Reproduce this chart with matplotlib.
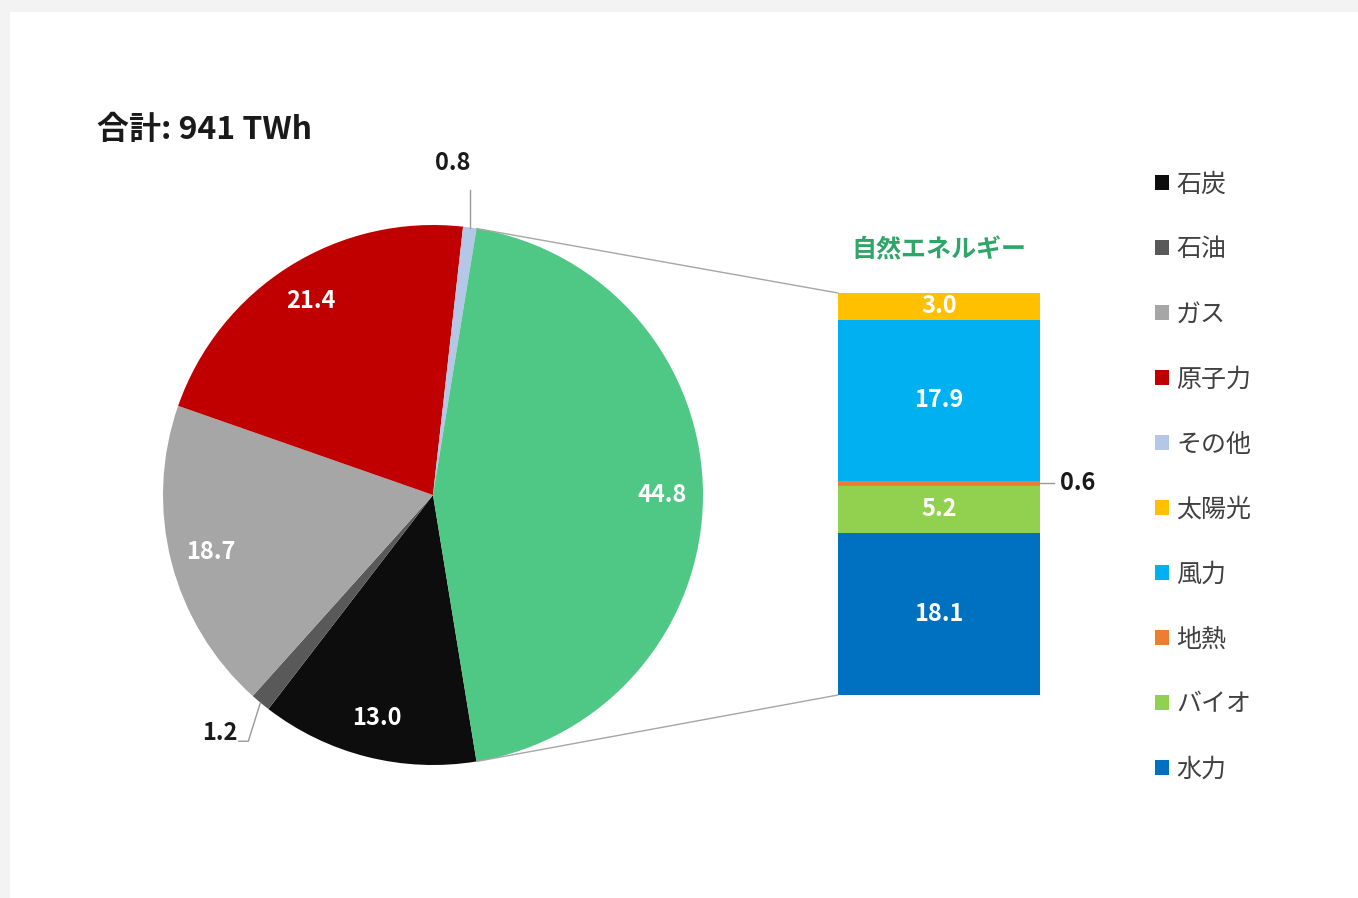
import numpy as np
import matplotlib
matplotlib.use("Agg")
import matplotlib.pyplot as plt
from matplotlib.patches import Patch, Rectangle, ConnectionPatch

plt.rcParams["font.family"] = ["Noto Sans CJK JP", "DejaVu Sans"]

# data
pie_labels = ["石炭", "石油", "ガス", "原子力", "その他", "自然エネルギー"]
pie_values = [13.0, 1.2, 18.7, 21.4, 0.8, 44.8]
pie_colors = ["#0d0d0d", "#595959", "#a6a6a6", "#c00000", "#b4c7e7", "#4fc785"]

bar_labels = ["水力", "バイオ", "地熱", "風力", "太陽光"]
bar_values = [18.1, 5.2, 0.6, 17.9, 3.0]
bar_colors = ["#0070c0", "#92d050", "#ed7d31", "#00b0f0", "#ffc000"]

total_label = "合計: 941 TWh"
renew_title = "自然エネルギー"

W, H = 1358, 898
fig = plt.figure(figsize=(W / 100, H / 100), dpi=100, facecolor="#f3f3f3")
fig.add_artist(Rectangle((10 / W, 0), 1, 1 - 12 / H, transform=fig.transFigure,
                         facecolor="white", edgecolor="none", zorder=0))


def px_axes(x0, y0, x1, y1):
    return fig.add_axes([x0 / W, 1 - y1 / H, (x1 - x0) / W, (y1 - y0) / H])


NUM_FS = 17

# pie
ax = px_axes(163, 225, 703, 765)
renew_share = pie_values[-1] / sum(pie_values)
start = -360 * renew_share / 2
wedges, _ = ax.pie(pie_values, colors=pie_colors, startangle=start, counterclock=False,
                   wedgeprops=dict(linewidth=0, clip_on=False))
ax.set_xlim(-1, 1)
ax.set_ylim(-1, 1)
ax.set_aspect("equal")
ax.axis("off")

for w, v in zip(wedges, pie_values):
    mid = np.deg2rad((w.theta1 + w.theta2) / 2)
    cx, cy = np.cos(mid), np.sin(mid)
    if v >= 5:
        ax.text(0.85 * cx, 0.85 * cy, f"{v:.1f}", color="white", fontsize=NUM_FS,
                fontweight="bold", ha="center", va="center")

# small slice labels with leader lines
w_other = wedges[4]
m = np.deg2rad((w_other.theta1 + w_other.theta2) / 2)
ox, oy = np.cos(m), np.sin(m)
ax.plot([ox, ox], [oy, 1.13], color="#999999", lw=1, clip_on=False)
ax.text(ox - 0.065, 1.23, f"{pie_values[4]:.1f}", fontsize=NUM_FS, fontweight="bold",
        ha="center", va="center", color="#1a1a1a")

w_oil = wedges[1]
m = np.deg2rad((w_oil.theta1 + w_oil.theta2) / 2)
ox, oy = np.cos(m), np.sin(m)
ax.plot([ox, ox - 0.045, ox - 0.08], [oy, -0.912, -0.912], color="#999999", lw=1,
        clip_on=False)
ax.text(ox - 0.085, -0.88, f"{pie_values[1]:.1f}", fontsize=NUM_FS, fontweight="bold",
        ha="right", va="center", color="#1a1a1a")

# stacked bar
bx = px_axes(838, 293, 1040, 695)
bottom = 0
for lab, v, c in zip(bar_labels, bar_values, bar_colors):
    bx.bar(0.5, v, width=1, bottom=bottom, color=c, linewidth=0)
    mid = bottom + v / 2
    if v >= 1:
        bx.text(0.5, mid, f"{v:.1f}", color="white", fontsize=NUM_FS, fontweight="bold",
                ha="center", va="center")
    else:
        bx.plot([1.0, 1.07], [mid, mid], color="#999999", lw=1, clip_on=False)
        bx.text(1.10, mid, f"{v:.1f}", fontsize=NUM_FS, fontweight="bold",
                ha="left", va="center", color="#1a1a1a")
    bottom += v
bx.set_xlim(0, 1)
bx.set_ylim(0, sum(bar_values))
bx.axis("off")
bx.text(0.5, sum(bar_values) + 4.8, renew_title, color="#2fa568", fontsize=18,
        fontweight="bold", ha="center", va="center")

# connector lines
g = wedges[-1]
for ang, yb in [(g.theta2, sum(bar_values)), (g.theta1, 0)]:
    a = np.deg2rad(ang)
    con = ConnectionPatch(xyA=(np.cos(a), np.sin(a)), coordsA=ax.transData,
                          xyB=(0, yb), coordsB=bx.transData,
                          color="#a6a6a6", lw=1)
    fig.add_artist(con)

fig.text(97 / W, 1 - 130 / H, total_label, fontsize=23, fontweight="bold",
         ha="left", va="center", color="#1a1a1a")

# legend
leg_labels = pie_labels[:5] + bar_labels[::-1]
leg_colors = pie_colors[:5] + bar_colors[::-1]
handles = [Patch(facecolor=c, edgecolor="none") for c in leg_colors]
fig.legend(handles, leg_labels, loc="center left", bbox_to_anchor=(1155 / W, 1 - 477 / H),
           frameon=False, fontsize=18, labelspacing=1.56, handlelength=0.55,
           handleheight=0.55, handletextpad=0.3, borderpad=0, borderaxespad=0,
           labelcolor="#404040")

fig.savefig("out.png", dpi=100, facecolor=fig.get_facecolor())
